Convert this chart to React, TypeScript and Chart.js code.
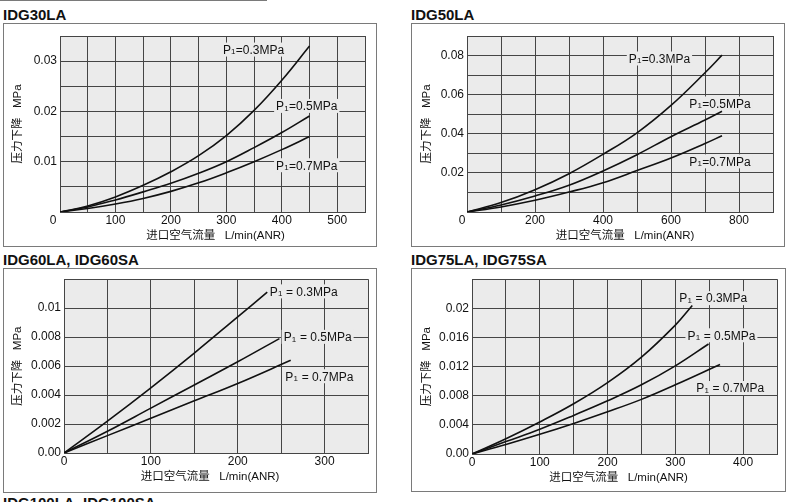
import React, { useEffect, useRef } from "react";
import { Chart, registerables } from "chart.js";

Chart.register(...registerables);

const FONT = "'Liberation Sans', Arial, Helvetica, sans-serif";
const CJK_FONT = "'Liberation Sans', 'Noto Sans CJK SC', sans-serif";
const PLOT_BG = "#ebebeb";
const GRID = "#454545";
const INK = "#111111";

const pressureNames = ["0.3", "0.5", "0.7"];
const xAxisTitle = "进口空气流量   L/min(ANR)";
const yAxisTitle = "压力下降   MPa";

// ---------- IDG30LA ----------
const idg30Flow = [0, 50, 100, 150, 200, 250, 300, 350, 400, 450];
const idg30P03 = [0, 0.0012, 0.003, 0.0053, 0.008, 0.0112, 0.0152, 0.0202, 0.0262, 0.033];
const idg30P05 = [0, 0.001, 0.0024, 0.004, 0.0057, 0.0077, 0.01, 0.0128, 0.0158, 0.0191];
const idg30P07 = [0, 0.0007, 0.0016, 0.0027, 0.0041, 0.0058, 0.0078, 0.01, 0.0124, 0.015];
const idg30XTicks = ["100", "200", "300", "400", "500"];
const idg30YTicks = ["0.01", "0.02", "0.03"];
const idg30LabelX = [349, 445, 445];
const idg30LabelY = [0.0323, 0.0211, 0.0093];

// ---------- IDG50LA ----------
const idg50Flow = [0, 100, 200, 300, 400, 500, 600, 700, 750];
const idg50P03 = [0, 0.0048, 0.0114, 0.0196, 0.0295, 0.0405, 0.0545, 0.0712, 0.0802];
const idg50P05 = [0, 0.0036, 0.0082, 0.0137, 0.021, 0.0293, 0.0385, 0.047, 0.0515];
const idg50P07 = [0, 0.0026, 0.006, 0.0102, 0.015, 0.0212, 0.0276, 0.035, 0.039];
const idg50XTicks = ["200", "400", "600", "800"];
const idg50YTicks = ["0.02", "0.04", "0.06", "0.08"];
const idg50LabelX = [566, 744, 744];
const idg50LabelY = [0.0785, 0.0555, 0.0259];

// ---------- IDG60LA, IDG60SA ----------
const idg60FlowP03 = [0, 50, 100, 150, 200, 234];
const idg60P03 = [0, 0.0022, 0.0045, 0.0069, 0.0094, 0.0111];
const idg60FlowP05 = [0, 50, 100, 150, 200, 248];
const idg60P05 = [0, 0.0015, 0.0031, 0.0047, 0.0063, 0.0079];
const idg60FlowP07 = [0, 50, 100, 150, 200, 261];
const idg60P07 = [0, 0.0012, 0.0024, 0.0036, 0.0048, 0.0064];
const idg60XTicks = ["0", "100", "200", "300"];
const idg60YTicks = ["0.00", "0.002", "0.004", "0.006", "0.008", "0.01"];
const idg60LabelX = [276, 292, 294];
const idg60LabelY = [0.01116, 0.00802, 0.0053];

// ---------- IDG75LA, IDG75SA ----------
const idg75FlowP03 = [0, 50, 100, 150, 200, 250, 300, 325];
const idg75P03 = [0, 0.0021, 0.0044, 0.0069, 0.0098, 0.0133, 0.0177, 0.0204];
const idg75FlowP05 = [0, 50, 100, 150, 200, 250, 300, 349];
const idg75P05 = [0, 0.0017, 0.0034, 0.0053, 0.0073, 0.0095, 0.0121, 0.0151];
const idg75FlowP07 = [0, 50, 100, 150, 200, 250, 300, 366];
const idg75P07 = [0, 0.0013, 0.0027, 0.0042, 0.0058, 0.0075, 0.0095, 0.0123];
const idg75XTicks = ["0", "100", "200", "300", "400"];
const idg75YTicks = ["0.00", "0.004", "0.008", "0.012", "0.016", "0.02"];
const idg75LabelX = [356, 368, 381];
const idg75LabelY = [0.0214, 0.0163, 0.00906];

type Spec = {
  title: string;
  box: { left: number; top: number; width: number; height: number };
  series: { x: number[]; y: number[] }[];
  xMax: number;
  xStep: number;
  yMax: number;
  yStep: number;
  xTicks: string[];
  yTicks: string[];
  cornerZero: number | null;
  labelX: number[];
  labelY: number[];
  spaced: boolean;
  yAxisW: number;
  xAxisH: number;
  padTop: number;
  padRight: number;
  yTitleX: number;
  xTitleShift: number;
};

const specs: Spec[] = [
  {
    title: "IDG30LA",
    box: { left: 3, top: 23, width: 374, height: 224 },
    series: [
      { x: idg30Flow, y: idg30P03 },
      { x: idg30Flow, y: idg30P05 },
      { x: idg30Flow, y: idg30P07 },
    ],
    xMax: 550, xStep: 50, yMax: 0.035, yStep: 0.005,
    xTicks: idg30XTicks, yTicks: idg30YTicks,
    cornerZero: -7,
    labelX: idg30LabelX, labelY: idg30LabelY, spaced: false,
    yAxisW: 56, xAxisH: 34, padTop: 12, padRight: 11, yTitleX: 14, xTitleShift: 3,
  },
  {
    title: "IDG50LA",
    box: { left: 411, top: 23, width: 374, height: 224 },
    series: [
      { x: idg50Flow, y: idg50P03 },
      { x: idg50Flow, y: idg50P05 },
      { x: idg50Flow, y: idg50P07 },
    ],
    xMax: 900, xStep: 100, yMax: 0.09, yStep: 0.01,
    xTicks: idg50XTicks, yTicks: idg50YTicks,
    cornerZero: -5,
    labelX: idg50LabelX, labelY: idg50LabelY, spaced: false,
    yAxisW: 55, xAxisH: 34, padTop: 12, padRight: 11, yTitleX: 15, xTitleShift: 5,
  },
  {
    title: "IDG60LA, IDG60SA",
    box: { left: 3, top: 268, width: 374, height: 225 },
    series: [
      { x: idg60FlowP03, y: idg60P03 },
      { x: idg60FlowP05, y: idg60P05 },
      { x: idg60FlowP07, y: idg60P07 },
    ],
    xMax: 350, xStep: 50, yMax: 0.012, yStep: 0.002,
    xTicks: idg60XTicks, yTicks: idg60YTicks,
    cornerZero: null,
    labelX: idg60LabelX, labelY: idg60LabelY, spaced: true,
    yAxisW: 60, xAxisH: 39, padTop: 8, padRight: 8, yTitleX: 14, xTitleShift: -6,
  },
  {
    title: "IDG75LA, IDG75SA",
    box: { left: 411, top: 268, width: 375, height: 224 },
    series: [
      { x: idg75FlowP03, y: idg75P03 },
      { x: idg75FlowP05, y: idg75P05 },
      { x: idg75FlowP07, y: idg75P07 },
    ],
    xMax: 450, xStep: 50, yMax: 0.024, yStep: 0.004,
    xTicks: idg75XTicks, yTicks: idg75YTicks,
    cornerZero: null,
    labelX: idg75LabelX, labelY: idg75LabelY, spaced: true,
    yAxisW: 60, xAxisH: 37, padTop: 8, padRight: 8, yTitleX: 15, xTitleShift: -6,
  },
];

function findLabel(list: string[], value: number, step: number): string {
  const hit = list.find((s) => Math.abs(parseFloat(s) - value) < step * 1e-3);
  return hit === undefined ? "" : hit;
}

function makeChart(canvas: HTMLCanvasElement, spec: Spec) {
  const decor = {
    id: "decor",
    beforeDraw(chart: any) {
      const { ctx, chartArea: a } = chart;
      ctx.save();
      ctx.fillStyle = PLOT_BG;
      ctx.fillRect(a.left, a.top, a.right - a.left, a.bottom - a.top);
      ctx.restore();
    },
    beforeDatasetsDraw(chart: any) {
      const { ctx, scales } = chart;
      const xs = scales.x;
      const ys = scales.y;
      ctx.save();
      spec.labelX.forEach((lx, i) => {
        const name = pressureNames[i];
        const rest = spec.spaced ? ` = ${name}MPa` : `=${name}MPa`;
        ctx.font = `12px ${FONT}`;
        const wP = ctx.measureText("P").width;
        const wRest = ctx.measureText(rest).width;
        ctx.font = `8px ${FONT}`;
        const wSub = ctx.measureText("1").width + 0.5;
        const total = wP + wSub + wRest;
        const cx = xs.getPixelForValue(lx);
        const cy = ys.getPixelForValue(spec.labelY[i]);
        const x0 = cx - total / 2;
        ctx.fillStyle = PLOT_BG;
        ctx.fillRect(x0 - 2, cy - 7, total + 4, 14);
        ctx.fillStyle = INK;
        ctx.textBaseline = "alphabetic";
        ctx.textAlign = "left";
        const base = cy + 4.3;
        ctx.font = `12px ${FONT}`;
        ctx.fillText("P", x0, base);
        ctx.font = `8px ${FONT}`;
        ctx.fillText("1", x0 + wP + 0.2, base + 0.5);
        ctx.font = `12px ${FONT}`;
        ctx.fillText(rest, x0 + wP + wSub, base);
      });
      ctx.restore();
    },
    afterDraw(chart: any) {
      const { ctx, chartArea: a } = chart;
      ctx.save();
      ctx.fillStyle = INK;
      ctx.textAlign = "center";
      ctx.textBaseline = "middle";
      ctx.font = `11.5px ${CJK_FONT}`;
      ctx.fillText(xAxisTitle, (a.left + a.right) / 2 + spec.xTitleShift, a.bottom + 23.5);
      ctx.save();
      ctx.translate(spec.yTitleX, (a.top + a.bottom) / 2);
      ctx.rotate(-Math.PI / 2);
      ctx.fillText(yAxisTitle, 0, 0);
      ctx.restore();
      if (spec.cornerZero !== null) {
        ctx.font = `12px ${FONT}`;
        ctx.fillText("0", a.left + spec.cornerZero, a.bottom + 8.4);
      }
      ctx.restore();
    },
  };

  return new Chart(canvas, {
    type: "line",
    data: {
      datasets: spec.series.map((s, i) => ({
        label: `P1=${pressureNames[i]}MPa`,
        data: s.x.map((x, j) => ({ x, y: s.y[j] })),
        borderColor: INK,
        borderWidth: 1.6,
        pointRadius: 0,
        fill: false,
        tension: 0.4,
      })),
    },
    options: {
      responsive: false,
      animation: false,
      devicePixelRatio: 1,
      layout: { padding: { top: spec.padTop, right: spec.padRight, left: 0, bottom: 0 } },
      plugins: { legend: { display: false }, tooltip: { enabled: false }, title: { display: false } },
      scales: {
        x: {
          type: "linear",
          min: 0,
          max: spec.xMax,
          ticks: {
            stepSize: spec.xStep,
            autoSkip: false,
            maxRotation: 0,
            padding: 1,
            color: INK,
            font: { family: FONT, size: 12 },
            callback: (v: any) => findLabel(spec.xTicks, Number(v), spec.xStep),
          },
          grid: { color: GRID, lineWidth: 1, drawTicks: false },
          border: { display: true, color: GRID, width: 1 },
          afterFit: (s: any) => {
            s.height = spec.xAxisH;
          },
        },
        y: {
          type: "linear",
          min: 0,
          max: spec.yMax,
          ticks: {
            stepSize: spec.yStep,
            autoSkip: false,
            padding: 3,
            color: INK,
            font: { family: FONT, size: 12 },
            callback: (v: any) => findLabel(spec.yTicks, Number(v), spec.yStep),
          },
          grid: { color: GRID, lineWidth: 1, drawTicks: false },
          border: { display: true, color: GRID, width: 1 },
          afterFit: (s: any) => {
            s.width = spec.yAxisW;
          },
        },
      },
    },
    plugins: [decor],
  } as any);
}

function ChartPanel({ spec }: { spec: Spec }) {
  const ref = useRef<HTMLCanvasElement>(null);
  useEffect(() => {
    if (!ref.current) return;
    const chart = makeChart(ref.current, spec);
    return () => chart.destroy();
  }, [spec]);
  const { box } = spec;
  const w = box.width - 2;
  const h = box.height - 2;
  return (
    <>
      <div
        style={{
          position: "absolute",
          left: box.left,
          top: box.top - 16,
          font: `bold 15px ${FONT}`,
          lineHeight: "15px",
          whiteSpace: "nowrap",
          color: INK,
        }}
      >
        {spec.title}
      </div>
      <div
        style={{
          position: "absolute",
          left: box.left,
          top: box.top,
          width: box.width,
          height: box.height,
          border: "1px solid #7a7a7a",
          boxSizing: "border-box",
          background: "#fff",
        }}
      >
        <canvas ref={ref} width={w} height={h} style={{ display: "block", width: w, height: h }} />
      </div>
    </>
  );
}

export default function App() {
  return (
    <div
      style={{
        position: "absolute",
        left: 0,
        top: 0,
        width: 790,
        height: 502,
        overflow: "hidden",
        background: "#fff",
      }}
    >
      <div style={{ position: "absolute", left: 0, top: 0, width: 267, height: 1, background: "#7a7a7a" }} />
      {specs.map((s) => (
        <ChartPanel key={s.title} spec={s} />
      ))}
      <div
        style={{
          position: "absolute",
          left: 3,
          top: 495,
          font: `bold 15px ${FONT}`,
          lineHeight: "15px",
          whiteSpace: "nowrap",
          color: INK,
        }}
      >
        IDG100LA, IDG100SA
      </div>
    </div>
  );
}
